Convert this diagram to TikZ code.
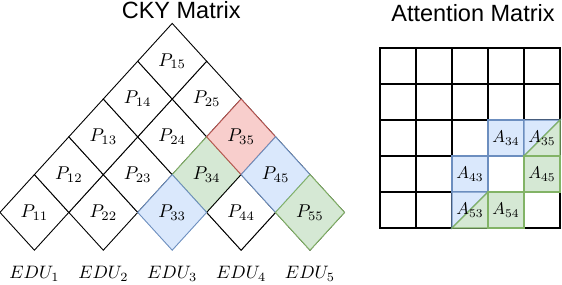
\documentclass[tikz,border=0pt]{standalone}
\usepackage{fontspec}
\newfontfamily\titlefont{Liberation Sans}
\definecolor{bluefill}{HTML}{DAE8FC}
\definecolor{bluedraw}{HTML}{6C8EBF}
\definecolor{greenfill}{HTML}{D5E8D4}
\definecolor{greendraw}{HTML}{82B366}
\definecolor{redfill}{HTML}{F8CECC}
\definecolor{reddraw}{HTML}{B85450}
\tikzset{
  titlelab/.style={font=\titlefont\fontsize{23.5}{26}\selectfont, anchor=base, inner sep=0pt},
  plab/.style={scale=1.85, inner sep=0pt},
  alab/.style={scale=1.7, inner sep=0pt},
  edulab/.style={scale=1.8, anchor=base, inner sep=0pt},
  diaedge/.style={line width=0.9pt, line join=miter},
  gridline/.style={line width=1.3pt},
  gridouter/.style={line width=2.3pt},
  cellblue/.style={fill=bluefill, draw=bluedraw, line width=1.3pt},
  cellgreen/.style={fill=greenfill, draw=greendraw, line width=1.3pt},
}
\newcommand\mydia[4]{%
  \pgfmathsetmacro\cx{34.4+34.45*(#1+#2-2)}%
  \pgfmathsetmacro\cy{212.4-37.8*(#2-#1)}%
  \filldraw[diaedge, fill=#3, draw=#4] (\cx-34.45,\cy) -- (\cx,\cy-37.8) -- (\cx+34.45,\cy) -- (\cx,\cy+37.8) -- cycle;
}
\newcommand\mydialab[2]{%
  \pgfmathsetmacro\cx{34.4+34.45*(#1+#2-2)}%
  \pgfmathsetmacro\cy{212.4-37.8*(#2-#1)}%
  \node[plab] (P#1#2) at (\cx,\cy) {$P_{#1#2}$};
}
\begin{document}
\begin{tikzpicture}[x=1pt,y=-1pt]
\useasboundingbox (0,0) rectangle (562,284);
% titles
\node[titlelab] (cky) at (181.2,18.5) {CKY Matrix};
\node[titlelab] (att) at (473,21) {Attention Matrix};
% white diamonds
\foreach \i/\j in {1/1,2/2,4/4,5/5,1/2,2/3,4/5,1/3,2/4,3/5,1/4,2/5,1/5}{
  \mydia{\i}{\j}{white}{black}
}
% coloured diamonds in stacking order
\mydia{3}{4}{greenfill}{greendraw}
\mydia{4}{4}{white}{black}
\mydia{3}{3}{bluefill}{bluedraw}
\mydia{3}{5}{redfill}{reddraw}
\mydia{4}{5}{bluefill}{bluedraw}
\mydia{5}{5}{greenfill}{greendraw}
% labels
\foreach \i/\j in {1/1,2/2,3/3,4/4,5/5,1/2,2/3,3/4,4/5,1/3,2/4,3/5,1/4,2/5,1/5}{
  \mydialab{\i}{\j}
}
% EDU labels
\foreach \k in {1,...,5}{
  \pgfmathsetmacro\ex{34.4+68.9*(\k-1)}
  \node[edulab] (edu\k) at (\ex,278.5) {$EDU_{\k}$};
}
% attention grid
\foreach \r in {1,...,5}{
  \foreach \c in {1,...,5}{
    \draw[gridline] ({380+36*(\c-1)},{48+36*(\r-1)}) rectangle +(36,36);
  }
}
\draw[gridouter] (380,48) rectangle (560,228);
% coloured cells
\filldraw[cellblue] (488,120) rectangle +(36,36);
\filldraw[cellblue] (452,156) rectangle +(36,36);
% split cell A35
\filldraw[cellblue] (524,120) -- (560,120) -- (524,156) -- cycle;
\filldraw[cellgreen] (560,120) -- (560,156) -- (524,156) -- cycle;
% split cell A53
\filldraw[cellblue] (452,192) -- (488,192) -- (452,228) -- cycle;
\filldraw[cellgreen] (488,192) -- (488,228) -- (452,228) -- cycle;
\filldraw[cellgreen] (524,156) rectangle +(36,36);
\filldraw[cellgreen] (488,192) rectangle +(36,36);
% A labels
\node[alab] (A34) at (506,138) {$A_{34}$};
\node[alab] (A35) at (542,138) {$A_{35}$};
\node[alab] (A43) at (470,174) {$A_{43}$};
\node[alab] (A45) at (542,174) {$A_{45}$};
\node[alab] (A53) at (470,210) {$A_{53}$};
\node[alab] (A54) at (506,210) {$A_{54}$};
\end{tikzpicture}
\end{document}
